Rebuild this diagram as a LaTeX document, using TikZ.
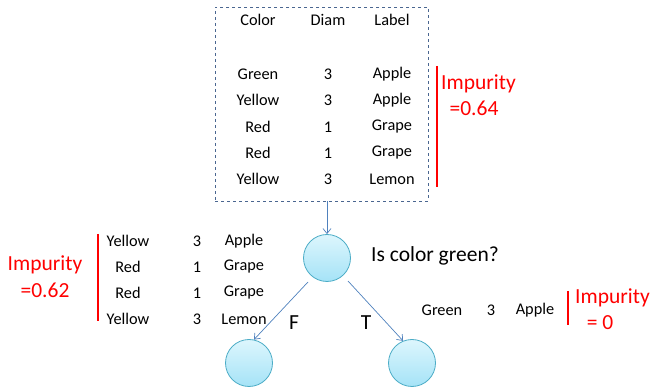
\documentclass[tikz,border=0pt]{standalone}
\usepackage{fontspec}
\setmainfont{Carlito}
\usetikzlibrary{arrows.meta}
\definecolor{boxblue}{HTML}{4A6690}
\definecolor{arrblue}{HTML}{4F81BD}
\definecolor{circborder}{HTML}{4BACC6}
\definecolor{circfill}{HTML}{A5E3F7}
\definecolor{circtop}{HTML}{DDF6FD}
\tikzset{
  cell/.style={inner sep=0pt, font=\fontsize{16.3}{18}\selectfont},
  imp/.style={inner sep=0pt, text=red, font=\fontsize{21.5}{24}\selectfont, align=center},
  big/.style={inner sep=0pt, font=\fontsize{21.5}{24}\selectfont},
  tnode/.style={circle, draw=circborder, line width=0.8pt, top color=circtop, bottom color=circfill, minimum size=47pt, inner sep=0pt},
  conn/.style={draw=arrblue, line width=0.7pt, -{Straight Barb[length=5pt,width=8pt]}},
  redbar/.style={draw=red, line width=2.6pt}
}
\begin{document}
\begin{tikzpicture}[x=1pt,y=-1pt]
\useasboundingbox (0,0) rectangle (654,387);
% top box
\node[draw=boxblue, dashed, line width=0.8pt, minimum width=213pt, minimum height=194pt, inner sep=0pt] (box) at (321.5,104) {};
\foreach \c/\x in {Color/258,Diam/328,Label/392} \node[cell] at (\x,20) {\c};
\node[cell] at (258,74) {Green};  \node[cell] at (328,74) {3}; \node[cell] at (392,74) {Apple};
\node[cell] at (258,100) {Yellow}; \node[cell] at (328,100) {3}; \node[cell] at (392,100) {Apple};
\node[cell] at (258,127) {Red};   \node[cell] at (328,127) {1}; \node[cell] at (392,127) {Grape};
\node[cell] at (258,153) {Red};   \node[cell] at (328,153) {1}; \node[cell] at (392,153) {Grape};
\node[cell] at (258,179) {Yellow}; \node[cell] at (328,179) {3}; \node[cell] at (392,179) {Lemon};
\coordinate (b1t) at (437,66); \coordinate (b1b) at (437,187);
\draw[redbar] (b1t) -- (b1b);
\node[imp, anchor=west] (imp1) at (441,84) {Impurity};
\node[imp] (imp1b) at (474,108) {=0.64};
% tree
\node[tnode] (root) at (327,258) {};
\node[tnode] (left) at (249,363) {};
\node[tnode] (right) at (412,363) {};
\draw[conn] (box.south -| root) -- (root.north);
\path (root) ++(-19,24) coordinate (lstart);
\path (root) ++(21,23) coordinate (rstart);
\draw[conn] (lstart) -- (left.78);
\draw[conn] (rstart) -- (right.112);
\node[big, anchor=west] (q) at (371,256) {Is color green?};
\node[big] (F) at (294,323) {F};
\node[big] (T) at (366,323) {T};
% left table
\node[cell] at (128,241) {Yellow}; \node[cell] at (197,241) {3}; \node[cell] at (244,241) {Apple};
\node[cell] at (128,267) {Red};    \node[cell] at (197,267) {1}; \node[cell] at (244,267) {Grape};
\node[cell] at (128,293) {Red};    \node[cell] at (197,293) {1}; \node[cell] at (244,293) {Grape};
\node[cell] at (128,319) {Yellow}; \node[cell] at (197,319) {3}; \node[cell] at (244,319) {Lemon};
\coordinate (b2t) at (98,234); \coordinate (b2b) at (98,321);
\draw[redbar] (b2t) -- (b2b);
\node[imp] (imp2) at (45,265) {Impurity};
\node[imp] (imp2b) at (45,290) {=0.62};
% right table
\node[cell] at (442,310) {Green}; \node[cell] at (491,310) {3}; \node[cell] at (535,310) {Apple};
\coordinate (b3t) at (568,291); \coordinate (b3b) at (568,325);
\draw[redbar] (b3t) -- (b3b);
\node[imp, anchor=west] (imp3) at (575,298) {Impurity};
\node[imp] (imp3b) at (600,323) {= 0};
\end{tikzpicture}
\end{document}
